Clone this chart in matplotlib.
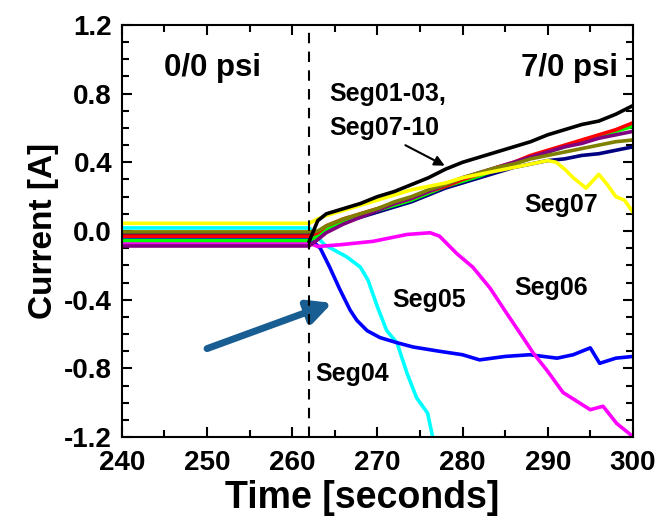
import matplotlib
matplotlib.use('Agg')
import matplotlib.pyplot as plt
from matplotlib.ticker import MultipleLocator, FormatStrFormatter

plt.rcParams['font.family'] = ['Liberation Sans', 'DejaVu Sans']
plt.rcParams['font.weight'] = 'bold'
plt.rcParams['axes.unicode_minus'] = False

# rising group (Seg01-03, Seg07-10)
t_up = [240, 262, 263, 264, 266, 268, 270, 272, 274, 276, 278, 280, 282, 284, 286, 288, 290, 292, 294, 296, 298, 300]
black = [-0.06, -0.06, 0.06, 0.10, 0.13, 0.16, 0.20, 0.23, 0.27, 0.31, 0.36, 0.40, 0.43, 0.46, 0.49, 0.52, 0.56, 0.59, 0.62, 0.64, 0.68, 0.73]
red = [-0.03, -0.03, -0.01, 0.03, 0.07, 0.10, 0.13, 0.16, 0.19, 0.23, 0.26, 0.30, 0.33, 0.37, 0.40, 0.44, 0.47, 0.50, 0.53, 0.56, 0.59, 0.63]
green = [-0.055, -0.055, -0.03, 0.01, 0.05, 0.09, 0.12, 0.15, 0.18, 0.22, 0.26, 0.29, 0.32, 0.36, 0.39, 0.43, 0.46, 0.49, 0.52, 0.55, 0.58, 0.61]
purple = [-0.087, -0.087, -0.05, -0.01, 0.04, 0.08, 0.12, 0.16, 0.19, 0.23, 0.27, 0.31, 0.34, 0.37, 0.40, 0.43, 0.46, 0.49, 0.51, 0.54, 0.56, 0.58]
olive = [-0.005, -0.005, 0.0, 0.03, 0.07, 0.10, 0.13, 0.17, 0.20, 0.24, 0.27, 0.31, 0.34, 0.37, 0.39, 0.42, 0.44, 0.46, 0.48, 0.50, 0.52, 0.53]
navy = [-0.02, -0.02, -0.01, 0.01, 0.05, 0.08, 0.11, 0.14, 0.17, 0.21, 0.25, 0.28, 0.31, 0.34, 0.37, 0.39, 0.41, 0.42, 0.44, 0.45, 0.47, 0.49]

t_yel = [240, 262, 263, 264, 266, 268, 270, 272, 274, 276, 278, 280, 282, 284, 286, 288, 290, 291, 292, 293, 294.5, 296, 297, 298, 299, 300]
yellow = [0.045, 0.045, 0.07, 0.09, 0.12, 0.15, 0.18, 0.21, 0.24, 0.26, 0.28, 0.31, 0.33, 0.35, 0.37, 0.39, 0.41, 0.40, 0.36, 0.31, 0.25, 0.33, 0.27, 0.20, 0.18, 0.11]

t_cyan = [240, 262, 263.8, 266.4, 268, 268.9, 270, 271.1, 272.3, 273.5, 274.6, 275.9, 276.5]
cyan = [0.018, 0.018, -0.08, -0.15, -0.21, -0.285, -0.44, -0.58, -0.65, -0.83, -0.97, -1.06, -1.2]

t_blue = [240, 262, 263.3, 264.4, 265.6, 266.8, 267.6, 268.8, 270.3, 272.3, 274.2, 277.3, 280, 282, 285, 287.9, 291.1, 293, 295, 296.1, 298, 300]
blue = [-0.04, -0.04, -0.10, -0.21, -0.34, -0.46, -0.52, -0.58, -0.62, -0.65, -0.675, -0.70, -0.72, -0.75, -0.73, -0.72, -0.74, -0.72, -0.68, -0.77, -0.74, -0.73]

t_mag = [240, 262, 263, 265.6, 269.5, 273.5, 276.2, 277.3, 279.3, 281.2, 283.2, 285.2, 287.1, 288.3, 289.9, 291.8, 295, 296.5, 298.1, 299.6, 300]
magenta = [-0.07, -0.07, -0.09, -0.08, -0.06, -0.02, -0.01, -0.03, -0.13, -0.21, -0.33, -0.48, -0.62, -0.71, -0.81, -0.94, -1.04, -1.02, -1.12, -1.18, -1.2]

fig = plt.figure(figsize=(6.62, 5.18), dpi=100)
ax = fig.add_axes([0.184, 0.156, 0.772, 0.796])

lw = 2.6
# black flat part sits under the others, rising part on top
ax.plot(t_up[:2], black[:2], color='#000000', lw=lw, zorder=1)
ax.plot(t_cyan, cyan, color='#00ffff', lw=lw, zorder=2)
ax.plot(t_blue, blue, color='#0000ff', lw=lw, zorder=2)
ax.plot(t_mag, magenta, color='#ff00ff', lw=lw, zorder=2)
ax.plot(t_up, navy, color='#000080', lw=lw, zorder=2)
ax.plot(t_up, green, color='#00ff00', lw=lw, zorder=2)
ax.plot(t_up, red, color='#ff0000', lw=lw, zorder=2)
ax.plot(t_up, purple, color='#800080', lw=lw, zorder=2)
ax.plot(t_up, olive, color='#808000', lw=lw, zorder=2)
ax.plot(t_yel, yellow, color='#ffff00', lw=lw, zorder=2)
ax.plot(t_up[1:], black[1:], color='#000000', lw=lw, zorder=3)

ax.axvline(262, color='k', lw=1.5, ls=(0, (5, 4)), zorder=4)

ax.set_xlim(240, 300)
ax.set_ylim(-1.2, 1.2)
ax.xaxis.set_major_locator(MultipleLocator(10))
ax.xaxis.set_minor_locator(MultipleLocator(5))
ax.yaxis.set_major_locator(MultipleLocator(0.4))
ax.yaxis.set_minor_locator(MultipleLocator(0.1))
ax.tick_params(which='both', direction='in', top=True, right=True, width=1.5)
ax.tick_params(which='major', length=7, labelsize=20)
ax.tick_params(axis='x', which='major', pad=9)
ax.tick_params(axis='y', which='major', pad=7)
ax.tick_params(which='minor', length=5)
for s in ax.spines.values():
    s.set_linewidth(1.5)
ax.yaxis.set_major_formatter(FormatStrFormatter('%.1f'))

ax.set_xlabel('Time [seconds]', fontsize=27, fontweight='bold')
ax.xaxis.set_label_coords(0.471, -0.105)
ax.set_ylabel('Current [A]', fontsize=24, fontweight='bold', labelpad=4)

ax.text(250.6, 0.95, '0/0 psi', fontsize=22.5, ha='center', va='center')
ax.text(292.6, 0.95, '7/0 psi', fontsize=22.5, ha='center', va='center')
ax.text(264.4, 0.80, 'Seg01-03,', fontsize=18, ha='left', va='center')
ax.text(264.4, 0.60, 'Seg07-10', fontsize=18, ha='left', va='center')
ax.text(287.3, 0.15, 'Seg07', fontsize=18, ha='left', va='center')
ax.text(286.1, -0.33, 'Seg06', fontsize=18, ha='left', va='center')
ax.text(271.7, -0.40, 'Seg05', fontsize=18, ha='left', va='center')
ax.text(262.7, -0.83, 'Seg04', fontsize=18, ha='left', va='center')

ax.annotate('', xy=(278.2, 0.373), xytext=(273.0, 0.507),
            arrowprops=dict(arrowstyle='-|>', color='k', lw=1.5, mutation_scale=15))
ax.annotate('', xy=(265.0, -0.413), xytext=(249.7, -0.69),
            arrowprops=dict(arrowstyle='-|>', color='#185e92', lw=5, mutation_scale=35))

fig.savefig('out.png', dpi=100)
